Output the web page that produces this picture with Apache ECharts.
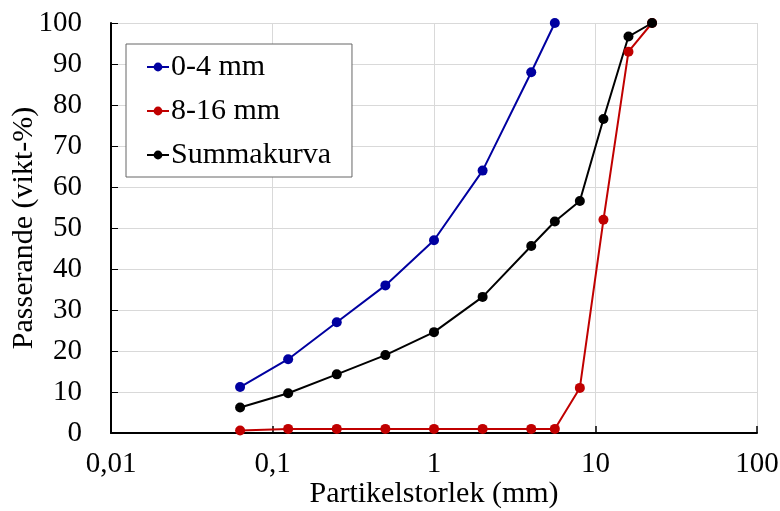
<!DOCTYPE html>
<html>
<head>
<meta charset="utf-8">
<script src="https://cdn.jsdelivr.net/npm/echarts@6/dist/echarts.min.js"></script>
<style>
  html, body { margin: 0; padding: 0; background: #fff; }
  #chart { width: 780px; height: 511px; }
</style>
</head>
<body>
<div id="chart"></div>
<script>
// Sieve sizes (mm) and passing percentages
const sieveSizes = [0.063, 0.125, 0.25, 0.5, 1, 2, 4, 5.6, 8, 11.2, 16, 22.4];
const fine04 = [11.2, 18, 27, 36, 47, 64, 88, 100];
const coarse816 = [0.6, 1, 1, 1, 1, 1, 1, 1, 11, 52, 93, 100];
const summakurva = [6.2, 9.7, 14.3, 19, 24.6, 33.2, 45.6, 51.6, 56.6, 76.6, 96.7, 100];
const seriesNames = ['0-4 mm', '8-16 mm', 'Summakurva'];
const seriesColors = ['#0000A0', '#C00000', '#000000'];

const pairs = vals => vals.map((v, i) => [sieveSizes[i], v]);
const font = '"Liberation Serif", "Times New Roman", serif';

const chart = echarts.init(document.getElementById('chart'));
chart.setOption({
  animation: false,
  textStyle: { fontFamily: font },
  grid: {
    left: 111, right: 23, top: 23, bottom: 78,
    containLabel: false,
    outerBoundsMode: 'none'
  },
  legend: {
    orient: 'vertical',
    left: 126, top: 44,
    padding: [8, 21, 7, 20],
    itemGap: 14,
    itemWidth: 22,
    itemHeight: 11,
    borderColor: '#666',
    borderWidth: 1,
    backgroundColor: '#fff',
    textStyle: { fontFamily: font, fontSize: 30, color: '#000', padding: [0, 0, 0, -3] },
    data: seriesNames
  },
  xAxis: {
    type: 'log', logBase: 10, min: 0.01, max: 100,
    name: 'Partikelstorlek (mm)', nameLocation: 'middle', nameGap: 46,
    nameMoveOverlap: false,
    nameTextStyle: { fontFamily: font, fontSize: 30, color: '#000' },
    axisLine: { lineStyle: { color: '#000', width: 2 } },
    axisTick: { inside: true, length: 7, lineStyle: { color: '#000', width: 1.5 } },
    minorTick: { show: false },
    axisLabel: {
      fontFamily: font, fontSize: 29, color: '#000', margin: 17,
      formatter: v => String(Number(v.toPrecision(6))).replace('.', ',')
    },
    splitLine: {
      show: true,
      interval: idx => idx < 4,
      lineStyle: { color: '#d9d9d9', width: 1 }
    }
  },
  yAxis: {
    type: 'value', min: 0, max: 100, interval: 10,
    name: 'Passerande (vikt-%)', nameLocation: 'middle', nameGap: 72, nameRotate: 90,
    nameMoveOverlap: false,
    nameTextStyle: { fontFamily: font, fontSize: 30, color: '#000' },
    axisLine: { show: true, lineStyle: { color: '#000', width: 2 } },
    axisTick: { show: true, inside: true, length: 7, lineStyle: { color: '#000', width: 1 } },
    axisLabel: { fontFamily: font, fontSize: 29, color: '#000', margin: 29 },
    splitLine: { show: true, lineStyle: { color: '#d9d9d9', width: 1 } }
  },
  series: [
    { name: seriesNames[0], type: 'line', data: pairs(fine04) },
    { name: seriesNames[1], type: 'line', data: pairs(coarse816) },
    { name: seriesNames[2], type: 'line', data: pairs(summakurva) }
  ].map((s, i) => Object.assign(s, {
    symbol: 'circle', symbolSize: 10,
    color: seriesColors[i],
    itemStyle: { color: seriesColors[i] },
    lineStyle: { color: seriesColors[i], width: 2 }
  }))
});
</script>
</body>
</html>
